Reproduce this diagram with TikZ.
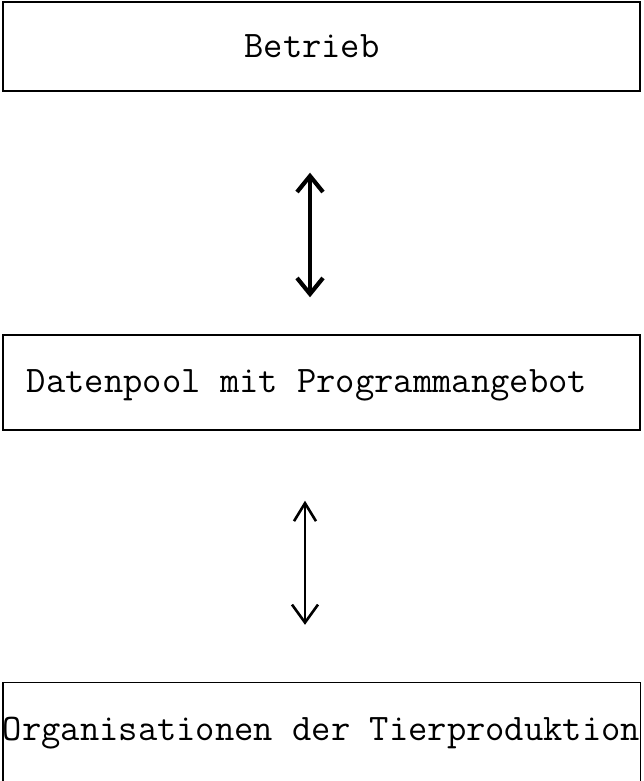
\documentclass[tikz,border=0pt]{standalone}
\usepackage{fontspec}
\usetikzlibrary{arrows.meta}
\begin{document}
\begin{tikzpicture}[x=1pt,y=1pt,
  frame/.style={draw, line width=1.4pt, minimum width=637pt, inner sep=0pt},
  openframe/.style={minimum width=637pt, inner sep=0pt},
  txt/.style={font=\fontsize{37.5}{40}\selectfont\ttfamily, inner sep=0pt},
  boldlink/.style={line width=4.2pt,
    {Straight Barb[length=16pt,width=26pt]}-{Straight Barb[length=16pt,width=26pt]}},
  thinlink/.style={line width=2.6pt,
    {Straight Barb[length=18pt,width=22pt]}-{Straight Barb[length=18pt,width=26pt]}}]
\useasboundingbox (0,0) rectangle (644,781);

% boxes
\node[frame, minimum height=89pt] (betrieb) at (321.5,734.5) {};
\node[frame, minimum height=95pt] (daten) at (321.5,398.5) {};
\node[openframe, minimum height=98pt] (org) at (321.5,49) {};
\draw[line width=1.4pt] (org.south west) -- (org.north west) -- (org.north east) -- (org.south east);

% labels
\node[txt] (betriebtxt) at (312,735) {Betrieb};
\node[txt] (datentxt) at (307,396) {Datenpool mit Programmangebot};
\node[txt] (orgtxt) at (321.5,48) {Organisationen der Tierproduktion};

% connectors
\draw[boldlink, shorten <=81pt, shorten >=37pt]
  ([xshift=-11.5pt]betrieb.south) -- ([xshift=-11.5pt]daten.north);
\draw[thinlink, shorten <=70pt, shorten >=58pt]
  ([xshift=-16.5pt]daten.south) -- ([xshift=-16.5pt]org.north);
\end{tikzpicture}
\end{document}
